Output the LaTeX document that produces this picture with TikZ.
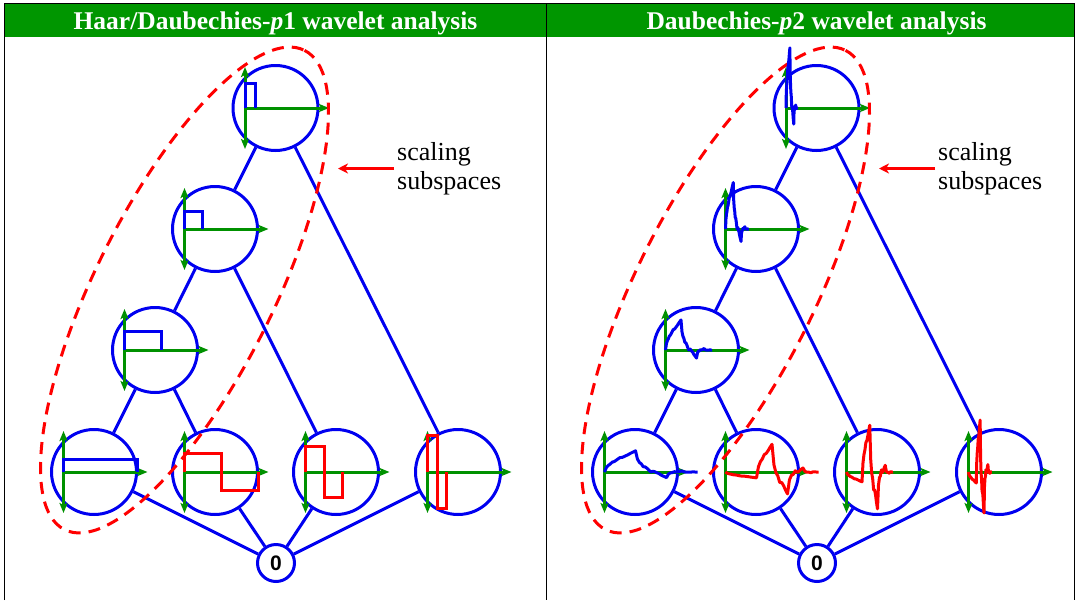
\documentclass[tikz,border=0pt]{standalone}
\usepackage{fontspec}
\setmainfont{Liberation Serif}
\newfontfamily\zerofont{Liberation Sans}
\usetikzlibrary{arrows.meta}
\definecolor{hgreen}{RGB}{0,150,0}
\definecolor{agreen}{RGB}{0,145,0}
\definecolor{wblue}{RGB}{0,0,240}
\definecolor{wred}{RGB}{255,0,0}
\tikzset{
  wc/.style={circle, draw=wblue, line width=3pt, minimum size=85pt, inner sep=0pt},
  zc/.style={circle, draw=wblue, line width=3pt, minimum size=37pt, inner sep=0pt,
    font=\zerofont\bfseries\fontsize{21}{21}\selectfont},
  conn/.style={draw=wblue, line width=3pt},
  ax/.style={draw=agreen, line width=3pt, arrows={-Stealth[length=10pt,width=8pt,inset=2pt]}},
  axv/.style={draw=agreen, line width=3pt,
    arrows={Stealth[length=10pt,width=8pt,inset=2pt]-Stealth[length=10pt,width=8pt,inset=2pt]}},
  scalB/.style={draw=wblue, line width=3pt},
  wavR/.style={draw=wred, line width=3pt},
  ell/.style={draw=wred, line width=3pt, dash pattern=on 12pt off 8pt},
  redarr/.style={draw=wred, line width=3pt, -{Stealth[length=10pt,width=10pt,inset=3pt]}},
  lab/.style={anchor=west, align=left, inner sep=0pt, font=\fontsize{26}{29}\selectfont},
  head/.style={text=white, anchor=base, inner sep=0pt, font=\bfseries\fontsize{25.5}{26}\selectfont},
  phiD/.pic={\draw[line join=round] plot[sharp plot] coordinates {(0,0) (0.0625,0.2973) (0.125,0.4353) (0.1875,0.5149) (0.25,0.6373) (0.3125,0.6742) (0.375,0.7539) (0.4375,0.8492) (0.5,0.9330) (0.5625,0.9387) (0.625,0.9871) (0.6875,1.0512) (0.75,1.1038) (0.8125,1.1792) (0.875,1.2433) (0.9375,1.3031) (1,1.3660) (1.0625,0.8340) (1.125,0.6205) (1.1875,0.5237) (1.25,0.3415) (1.3125,0.3301) (1.375,0.2333) (1.4375,0.1052) (1.5,0) (1.5625,0.0511) (1.625,0.0167) (1.6875,-0.0488) (1.75,-0.0915) (1.8125,-0.1799) (1.875,-0.2455) (1.9375,-0.3027) (2,-0.3660) (2.0625,-0.1312) (2.125,-0.0558) (2.1875,-0.0386) (2.25,0.0212) (2.3125,-0.0043) (2.375,0.0129) (2.4375,0.0456) (2.5,0.0670) (2.5625,0.0102) (2.625,-0.0039) (2.6875,-0.0024) (2.75,-0.0123) (2.8125,0.0007) (2.875,0.0022) (2.9375,-0.0004) (3,0)};},
  psiD/.pic={\draw[line join=round] plot[sharp plot] coordinates {(0,0) (0.0625,-0.0797) (0.125,-0.1166) (0.1875,-0.1380) (0.25,-0.1708) (0.3125,-0.1807) (0.375,-0.2020) (0.4375,-0.2275) (0.5,-0.25) (0.5625,-0.2515) (0.625,-0.2645) (0.6875,-0.2817) (0.75,-0.2958) (0.8125,-0.3160) (0.875,-0.3331) (0.9375,-0.3492) (1,-0.3660) (1.0625,0.3284) (1.125,0.6417) (1.1875,0.8156) (1.25,1.0915) (1.3125,1.1632) (1.375,1.3370) (1.4375,1.5482) (1.5,1.7321) (1.5625,0.4545) (1.625,-0.0380) (1.6875,-0.2430) (1.75,-0.6585) (1.8125,-0.6532) (1.875,-0.8583) (1.9375,-1.1403) (2,-1.3660) (2.0625,-0.4898) (2.125,-0.2081) (2.1875,-0.1441) (2.25,0.0792) (2.3125,-0.0160) (2.375,0.0480) (2.4375,0.1703) (2.5,0.25) (2.5625,0.0381) (2.625,-0.0145) (2.6875,-0.0088) (2.75,-0.0458) (2.8125,0.0027) (2.875,0.0084) (2.9375,-0.0015) (3,0)};},
}
\newcommand\wavetree[1]{%
  \node[wc] (T#1) at (275.5,108) {};
  \node[wc] (A#1) at (215,229) {};
  \node[wc] (B#1) at (155,350) {};
  \node[wc] (P#1) at (94,472) {};
  \node[wc] (Q#1) at (215,472) {};
  \node[wc] (R#1) at (336,472) {};
  \node[wc] (S#1) at (458,472) {};
  \node[zc] (Z#1) at (276,563) {0};
  \draw[conn] (T#1) -- (A#1);
  \draw[conn] (T#1) -- (S#1);
  \draw[conn] (A#1) -- (B#1);
  \draw[conn] (A#1) -- (R#1);
  \draw[conn] (B#1) -- (P#1);
  \draw[conn] (B#1) -- (Q#1);
  \draw[conn] (P#1) -- (Z#1);
  \draw[conn] (Q#1) -- (Z#1);
  \draw[conn] (R#1) -- (Z#1);
  \draw[conn] (S#1) -- (Z#1);
  \foreach \n in {T,A,B,P,Q,R,S}{
    \coordinate (o\n#1) at ([xshift=-30.5pt]\n#1.center);
    \draw[axv] ([yshift=41pt]o\n#1) -- ([yshift=-41pt]o\n#1);
    \draw[ax] (o\n#1) -- ([xshift=53.5pt]\n#1.center);
  }
  \node[lab] (L#1) at (397,168.5) {scaling\\subspaces};
  \coordinate (E#1) at (338,168.5);
  \draw[redarr] ([xshift=-3pt]L#1.west) -- (E#1);
}
\begin{document}
\begin{tikzpicture}[x=1pt,y=-1pt]
\useasboundingbox (0,0) rectangle (1078,600);
\fill[white] (0,0) rectangle (1078,600);
% headers
\fill[hgreen] (5,4) rectangle (546,37);
\fill[hgreen] (547,4) rectangle (1074,37);
\node[head] (H1) at (275.5,29.5) {Haar/Daubechies-\textit{p}1 wavelet analysis};
\node[head] (H2) at (816.5,29.5) {Daubechies-\textit{p}2 wavelet analysis};
\draw[black, line width=1pt] (4.5,600) -- (4.5,3.5) -- (1074.5,3.5) -- (1074.5,600);
\draw[black, line width=1pt] (546.5,3.5) -- (546.5,600);
% left panel
\wavetree{1}
\draw[scalB] (oT1) -- ++(0,-25) -- ++(10,0) -- ++(0,25);
\draw[scalB] (oA1) -- ++(0,-18) -- ++(18,0) -- ++(0,18);
\draw[scalB] (oB1) -- ++(0,-19) -- ++(37,0) -- ++(0,19);
\draw[scalB] (oP1) -- ++(0,-13) -- ++(74,0) -- ++(0,13);
\draw[wavR] (oQ1) -- ++(0,-19) -- ++(37,0) -- ++(0,37) -- ++(37,0) -- ++(0,-18);
\draw[wavR] (oR1) -- ++(0,-26) -- ++(18.5,0) -- ++(0,51) -- ++(18.5,0) -- ++(0,-25);
\draw[wavR] (oS1) -- ++(0,-37) -- ++(9.5,0) -- ++(0,73) -- ++(9.5,0) -- ++(0,-36);
\draw[ell, rotate around={63.4:(184.5,290)}] (184.5,290) ellipse [x radius=268, y radius=89];
% right panel
\begin{scope}[xshift=541pt]
\wavetree{2}
\draw[ell, rotate around={63.4:(184.5,290)}] (184.5,290) ellipse [x radius=268, y radius=89];
\end{scope}
\pic[color=wblue, line width=3pt, xscale=3.875, yscale=-44] at (oT2) {phiD};
\pic[color=wblue, line width=3pt, xscale=7.75, yscale=-34] at (oA2) {phiD};
\pic[color=wblue, line width=3pt, xscale=15.5, yscale=-22] at (oB2) {phiD};
\pic[color=wblue, line width=3pt, xscale=31, yscale=-15.5] at (oP2) {phiD};
\pic[color=wred, line width=3pt, xscale=31, yscale=-16] at (oQ2) {psiD};
\pic[color=wred, line width=3pt, xscale=15.5, yscale=-27] at (oR2) {psiD};
\pic[color=wred, line width=3pt, xscale=7.75, yscale=-30] at (oS2) {psiD};
\end{tikzpicture}
\end{document}
